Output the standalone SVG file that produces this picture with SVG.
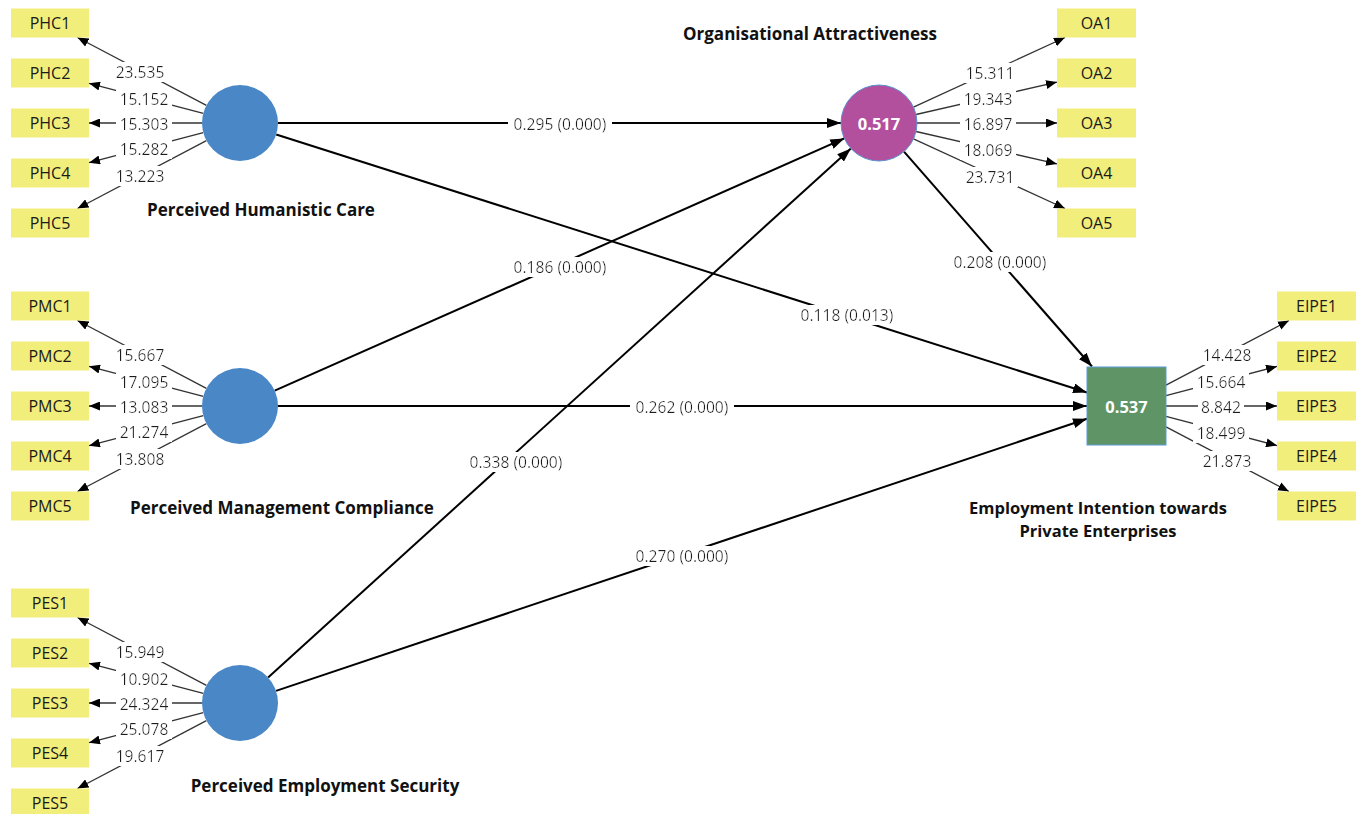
<svg xmlns="http://www.w3.org/2000/svg" width="1362" height="814" viewBox="0 0 1362 814">
<style>
.bg{fill:#ffffff}
.ind rect{fill:#f2ee7b}
.ind text{font-family:"Open Sans","Noto Sans",sans-serif;font-size:16px;fill:#1a1a1a;text-anchor:middle;dominant-baseline:central}
.lv{fill:#4a87c6}
.title{font-family:"Open Sans","Noto Sans",sans-serif;font-size:17px;font-weight:bold;fill:#111;text-anchor:middle;dominant-baseline:central}
.t2{font-size:16.5px}
.r2{font-family:"Open Sans","Noto Sans",sans-serif;font-size:16.5px;font-weight:bold;fill:#ffffff;text-anchor:middle;dominant-baseline:central}
.ld{stroke:#333;stroke-width:1.3;fill:none;marker-end:url(#ahs)}
.st{stroke:#000;stroke-width:2;fill:none;marker-end:url(#ahl)}
.lbl{font-family:"Open Sans","Noto Sans",sans-serif;fill:#1a1a1a;text-anchor:middle;dominant-baseline:central;filter:url(#wbg)}
.ll{font-size:15.6px}
.pl{font-size:15.6px}
</style>
<defs>
<filter id="wbg" x="-0.06" y="0.08" width="1.12" height="0.84">
<feFlood flood-color="#ffffff"/>
<feComposite in="SourceGraphic" operator="over"/>
</filter>
<marker id="ahs" viewBox="0 0 11 9" refX="11" refY="4.5" markerWidth="11" markerHeight="9" markerUnits="userSpaceOnUse" orient="auto"><path d="M0,0 L11,4.5 L0,9 z" fill="#000"/></marker>
<marker id="ahl" viewBox="0 0 14 10" refX="14" refY="5" markerWidth="14" markerHeight="10" markerUnits="userSpaceOnUse" orient="auto"><path d="M0,0 L14,5 L0,10 z" fill="#000"/></marker>
</defs>
<rect class="bg" x="0" y="0" width="1362" height="814"/>

<g id="connectors">
<line class="st" x1="278" y1="123" x2="841" y2="123"/>
<line class="st" x1="276.2" y1="134.5" x2="1087" y2="392.5"/>
<line class="st" x1="274.7" y1="390.6" x2="844.3" y2="138.4"/>
<line class="st" x1="278" y1="406" x2="1087" y2="406"/>
<line class="st" x1="268.1" y1="677.5" x2="850.9" y2="148.5"/>
<line class="st" x1="276" y1="690.9" x2="1087" y2="418.8"/>
<line class="st" x1="904" y1="151.6" x2="1092" y2="366.5"/>

<line class="ld" x1="206.4" y1="105.3" x2="77.5" y2="37.5"/>
<line class="ld" x1="203.3" y1="113.3" x2="89" y2="83.3"/>
<line class="ld" x1="202" y1="123" x2="89" y2="123"/>
<line class="ld" x1="203.3" y1="132.7" x2="89" y2="162.7"/>
<line class="ld" x1="206.4" y1="140.7" x2="77.5" y2="208.5"/>

<line class="ld" x1="206.4" y1="388.3" x2="77.5" y2="320.5"/>
<line class="ld" x1="203.3" y1="396.3" x2="89" y2="366.3"/>
<line class="ld" x1="202" y1="406" x2="89" y2="406"/>
<line class="ld" x1="203.3" y1="415.7" x2="89" y2="445.7"/>
<line class="ld" x1="206.4" y1="423.7" x2="77.5" y2="491.5"/>

<line class="ld" x1="206.4" y1="685.3" x2="77.5" y2="617.5"/>
<line class="ld" x1="203.3" y1="693.3" x2="89" y2="663.3"/>
<line class="ld" x1="202" y1="703" x2="89" y2="703"/>
<line class="ld" x1="203.3" y1="712.7" x2="89" y2="742.7"/>
<line class="ld" x1="206.4" y1="720.7" x2="77.5" y2="788.5"/>

<line class="ld" x1="913.5" y1="107.1" x2="1065" y2="37.5"/>
<line class="ld" x1="916" y1="114.5" x2="1057" y2="82.1"/>
<line class="ld" x1="917" y1="123" x2="1057" y2="123"/>
<line class="ld" x1="916" y1="131.5" x2="1057" y2="163.9"/>
<line class="ld" x1="913.5" y1="138.9" x2="1065" y2="208.5"/>

<line class="ld" x1="1166" y1="385.2" x2="1289" y2="320.5"/>
<line class="ld" x1="1166" y1="395.6" x2="1277" y2="366.4"/>
<line class="ld" x1="1166" y1="406" x2="1277" y2="406"/>
<line class="ld" x1="1166" y1="416.4" x2="1277" y2="445.6"/>
<line class="ld" x1="1166" y1="426.8" x2="1289" y2="491.5"/>

<text class="lbl pl" x="560" y="124">0.295 (0.000)</text>
<text class="lbl pl" x="560" y="267">0.186 (0.000)</text>
<text class="lbl pl" x="847" y="315">0.118 (0.013)</text>
<text class="lbl pl" x="1000" y="262">0.208 (0.000)</text>
<text class="lbl pl" x="682" y="407">0.262 (0.000)</text>
<text class="lbl pl" x="516" y="462">0.338 (0.000)</text>
<text class="lbl pl" x="682" y="556">0.270 (0.000)</text>

<text class="lbl ll" x="140" y="72">23.535</text>
<text class="lbl ll" x="144" y="99">15.152</text>
<text class="lbl ll" x="144" y="124">15.303</text>
<text class="lbl ll" x="144" y="149">15.282</text>
<text class="lbl ll" x="140" y="176">13.223</text>

<text class="lbl ll" x="140" y="355">15.667</text>
<text class="lbl ll" x="144" y="382">17.095</text>
<text class="lbl ll" x="144" y="407">13.083</text>
<text class="lbl ll" x="144" y="432">21.274</text>
<text class="lbl ll" x="140" y="459">13.808</text>

<text class="lbl ll" x="140" y="652">15.949</text>
<text class="lbl ll" x="144" y="679">10.902</text>
<text class="lbl ll" x="144" y="704">24.324</text>
<text class="lbl ll" x="144" y="729">25.078</text>
<text class="lbl ll" x="140" y="756">19.617</text>

<text class="lbl ll" x="990" y="73">15.311</text>
<text class="lbl ll" x="988" y="99">19.343</text>
<text class="lbl ll" x="988" y="124">16.897</text>
<text class="lbl ll" x="988" y="150">18.069</text>
<text class="lbl ll" x="990" y="177">23.731</text>

<text class="lbl ll" x="1227" y="355">14.428</text>
<text class="lbl ll" x="1221" y="382">15.664</text>
<text class="lbl ll" x="1221" y="407">8.842</text>
<text class="lbl ll" x="1221" y="433">18.499</text>
<text class="lbl ll" x="1227" y="461">21.873</text>
</g>

<g id="PHC">
<circle class="lv" cx="240" cy="123" r="38"/>
<text class="title" x="261" y="209">Perceived Humanistic Care</text>
</g>
<g id="PMC">
<circle class="lv" cx="240" cy="406" r="38"/>
<text class="title" x="282" y="507">Perceived Management Compliance</text>
</g>
<g id="PES">
<circle class="lv" cx="240" cy="703" r="38"/>
<text class="title" x="325" y="785">Perceived Employment Security</text>
</g>
<g id="OA">
<circle cx="879" cy="123" r="38" fill="#b3509e" stroke="#5b8fd0" stroke-width="1"/>
<text class="r2" x="879" y="123">0.517</text>
<text class="title" x="810" y="33">Organisational Attractiveness</text>
</g>
<g id="EIPE">
<rect x="1087" y="367" width="79" height="78" fill="#5e9466" stroke="#5b9bd5" stroke-width="1"/>
<text class="r2" x="1126.5" y="406">0.537</text>
<text class="title t2" x="1098" y="507">Employment Intention towards</text>
<text class="title t2" x="1098" y="530">Private Enterprises</text>
</g>

<g id="PHC1" class="ind"><rect x="11" y="8.5" width="78" height="29"/><text x="50" y="23">PHC1</text></g>
<g id="PHC2" class="ind"><rect x="11" y="58.5" width="78" height="29"/><text x="50" y="73">PHC2</text></g>
<g id="PHC3" class="ind"><rect x="11" y="108.5" width="78" height="29"/><text x="50" y="123">PHC3</text></g>
<g id="PHC4" class="ind"><rect x="11" y="158.5" width="78" height="29"/><text x="50" y="173">PHC4</text></g>
<g id="PHC5" class="ind"><rect x="11" y="208.5" width="78" height="29"/><text x="50" y="223">PHC5</text></g>

<g id="PMC1" class="ind"><rect x="11" y="291.5" width="78" height="29"/><text x="50" y="306">PMC1</text></g>
<g id="PMC2" class="ind"><rect x="11" y="341.5" width="78" height="29"/><text x="50" y="356">PMC2</text></g>
<g id="PMC3" class="ind"><rect x="11" y="391.5" width="78" height="29"/><text x="50" y="406">PMC3</text></g>
<g id="PMC4" class="ind"><rect x="11" y="441.5" width="78" height="29"/><text x="50" y="456">PMC4</text></g>
<g id="PMC5" class="ind"><rect x="11" y="491.5" width="78" height="29"/><text x="50" y="506">PMC5</text></g>

<g id="PES1" class="ind"><rect x="11" y="588.5" width="78" height="29"/><text x="50" y="603">PES1</text></g>
<g id="PES2" class="ind"><rect x="11" y="638.5" width="78" height="29"/><text x="50" y="653">PES2</text></g>
<g id="PES3" class="ind"><rect x="11" y="688.5" width="78" height="29"/><text x="50" y="703">PES3</text></g>
<g id="PES4" class="ind"><rect x="11" y="738.5" width="78" height="29"/><text x="50" y="753">PES4</text></g>
<g id="PES5" class="ind"><rect x="11" y="788.5" width="78" height="29"/><text x="50" y="803">PES5</text></g>

<g id="OA1" class="ind"><rect x="1057" y="8.5" width="79" height="29"/><text x="1096.5" y="23">OA1</text></g>
<g id="OA2" class="ind"><rect x="1057" y="58.5" width="79" height="29"/><text x="1096.5" y="73">OA2</text></g>
<g id="OA3" class="ind"><rect x="1057" y="108.5" width="79" height="29"/><text x="1096.5" y="123">OA3</text></g>
<g id="OA4" class="ind"><rect x="1057" y="158.5" width="79" height="29"/><text x="1096.5" y="173">OA4</text></g>
<g id="OA5" class="ind"><rect x="1057" y="208.5" width="79" height="29"/><text x="1096.5" y="223">OA5</text></g>

<g id="EIPE1" class="ind"><rect x="1277" y="291.5" width="79" height="29"/><text x="1316.5" y="306">EIPE1</text></g>
<g id="EIPE2" class="ind"><rect x="1277" y="341.5" width="79" height="29"/><text x="1316.5" y="356">EIPE2</text></g>
<g id="EIPE3" class="ind"><rect x="1277" y="391.5" width="79" height="29"/><text x="1316.5" y="406">EIPE3</text></g>
<g id="EIPE4" class="ind"><rect x="1277" y="441.5" width="79" height="29"/><text x="1316.5" y="456">EIPE4</text></g>
<g id="EIPE5" class="ind"><rect x="1277" y="491.5" width="79" height="29"/><text x="1316.5" y="506">EIPE5</text></g>
</svg>
